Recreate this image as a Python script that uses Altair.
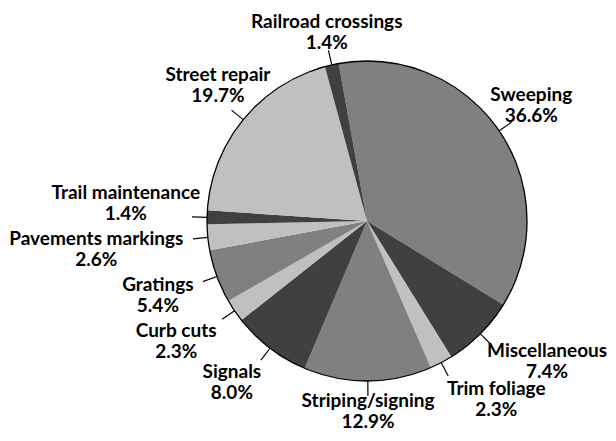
import math
import altair as alt
import pandas as pd

categories = ["Sweeping", "Miscellaneous", "Trim foliage", "Striping/signing", "Signals",
              "Curb cuts", "Gratings", "Pavements markings", "Trail maintenance",
              "Street repair", "Railroad crossings"]
shares = [36.6, 7.4, 2.3, 12.9, 8.0, 2.3, 5.4, 2.6, 1.4, 19.7, 1.4]
tones = ["mid", "dark", "light", "mid", "dark", "light", "mid", "light", "dark", "light", "dark"]
tone_colors = {"mid": "#808080", "dark": "#404040", "light": "#c0c0c0"}

# label placement tweaks (pixels) relative to the automatic outside placement
label_nudge = {
    "Sweeping": (-11, -6), "Miscellaneous": (35, -14), "Trim foliage": (37, -8),
    "Striping/signing": (0, -16), "Signals": (-13, -9), "Curb cuts": (-15, -9),
    "Gratings": (-8, -10), "Pavements markings": (-16, -8), "Trail maintenance": (10, -22),
    "Street repair": (12, -14), "Railroad crossings": (3, -7),
}

W, H = 600, 425
CX, CY = 359, 213
R = 160
LEAD = 15
START = math.radians(-10.2)
FS = 19
LH = 21

total = sum(shares)
rows = []
cum = 0.0
for i, (c, s, t) in enumerate(zip(categories, shares, tones)):
    mid = START + 2 * math.pi * (cum + s / 2) / total
    cum += s
    sx, sy = math.sin(mid), -math.cos(mid)
    x0, y0 = CX + R * sx, CY + R * sy
    x1, y1 = CX + (R + LEAD) * sx, CY + (R + LEAD) * sy
    pct = f"{s:.1f}%"
    w = max(len(c), len(pct)) * FS * 0.46 + 4
    h = 2 * LH
    cand = []
    if abs(sx) > 1e-6:
        cand.append(w / 2 / abs(sx))
    if abs(sy) > 1e-6:
        cand.append(h / 2 / abs(sy))
    tt = min(cand)
    ndx, ndy = label_nudge.get(c, (0, 0))
    rows.append(dict(idx=i, cat=c, share=s, tone=t, label=[c, pct],
                     x0=x0, y0=y0, x1=x1, y1=y1,
                     tx=x1 + tt * sx + ndx, ty=y1 + tt * sy + ndy))
df = pd.DataFrame(rows)

xs = alt.Scale(domain=[0, W], range=[0, W])
ys = alt.Scale(domain=[0, H], range=[0, H])

pie = alt.Chart(df).mark_arc(radius=R).encode(
    theta=alt.Theta("share:Q", stack=True,
                    scale=alt.Scale(range=[START, START + 2 * math.pi])),
    color=alt.Color("tone:N", scale=alt.Scale(domain=list(tone_colors.keys()),
                                              range=list(tone_colors.values())), legend=None),
    order=alt.Order("idx:Q"),
    x=alt.value(CX), y=alt.value(CY),
)

outline = alt.Chart(pd.DataFrame({"a": [1]})).mark_arc(
    radius=R, theta=0, theta2=2 * math.pi, fillOpacity=0, stroke="black", strokeWidth=1.3
).encode(x=alt.value(CX), y=alt.value(CY))

leaders = alt.Chart(df).mark_rule(color="black", strokeWidth=1.2).encode(
    x=alt.X("x0:Q", scale=xs, axis=None), y=alt.Y("y0:Q", scale=ys, axis=None),
    x2="x1:Q", y2="y1:Q",
)

labels = alt.Chart(df).mark_text(
    font="Lato", fontSize=FS, fontWeight="bold", align="center", baseline="middle",
    lineHeight=LH, color="black"
).encode(
    x=alt.X("tx:Q", scale=xs, axis=None), y=alt.Y("ty:Q", scale=ys, axis=None),
    text="label",
)

chart = alt.layer(pie, outline, leaders, labels).properties(
    width=W, height=H, padding=0, autosize=alt.AutoSizeParams(type="none"), background="white"
).configure_view(stroke=None)

chart.save("out.html", embed_options={"renderer": "svg", "actions": False})
